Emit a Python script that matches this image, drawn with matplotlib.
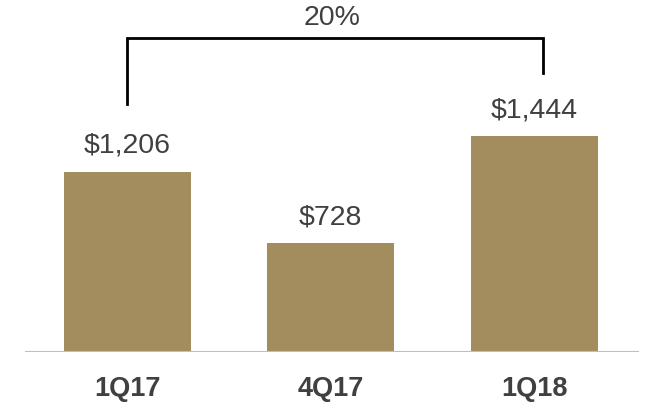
import matplotlib
matplotlib.use("Agg")
import matplotlib.pyplot as plt

categories = ["1Q17", "4Q17", "1Q18"]
values = [1206, 728, 1444]
value_labels = ["$1,206", "$728", "$1,444"]
growth_label = "20%"

plt.rcParams['font.family'] = ['Liberation Sans', 'DejaVu Sans']

fig = plt.figure(figsize=(6.45, 4.09), dpi=100)
ax = fig.add_axes([0, 57/409, 1, 352/409])
ax.set_xlim(-0.624, 2.545)
ax.set_ylim(0, 2354)

x = list(range(len(categories)))
bars = ax.bar(x, values, width=0.624, color="#A38D5E", zorder=2)

for xi, v, lab in zip(x, values, value_labels):
    ax.annotate(lab, (xi, v), xytext=(0, 13.5), textcoords="offset points",
                ha="center", va="baseline", fontsize=20.5, color="#404040")

ax.axhline(0, xmin=0.04, xmax=0.989, color="#BFBFBF", lw=1.5, zorder=3)

# bracket
top = 2100
ax.plot([0, 0, 2.044, 2.044], [1659, top, top, 1866], color="black", lw=2,
        solid_joinstyle="miter", clip_on=False)
ax.text(1.007, 2234, growth_label, ha="center", va="center", fontsize=20.5, color="#404040")

ax.set_xticks(x)
ax.set_xticklabels(categories, fontsize=19.5, fontweight="bold", color="#404040")
ax.tick_params(axis="x", length=0, pad=17)
ax.set_yticks([])
for s in ax.spines.values():
    s.set_visible(False)

fig.savefig("out.png", dpi=100)
